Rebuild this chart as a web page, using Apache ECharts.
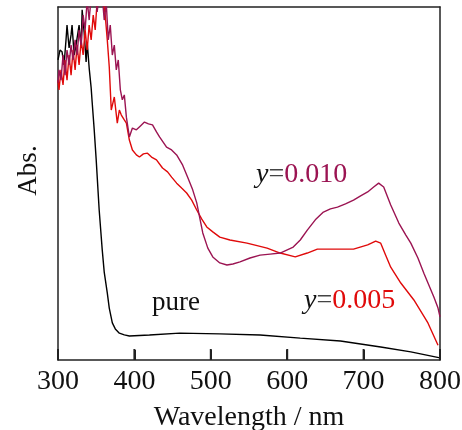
<!DOCTYPE html>
<html><head><meta charset="utf-8">
<script src="https://cdn.jsdelivr.net/npm/echarts@6/dist/echarts.min.js"></script>
<style>html,body{margin:0;padding:0;background:#fff}#c{width:462px;height:430px}</style>
</head><body><div id="c"></div>
<script>
const xTicks = [300, 400, 500, 600, 700, 800];

const pureWl = [300,302.6,305.3,307.9,310.5,311.8,314.5,317.1,318.4,321.1,323.7,325,327.6,330.3,331.6,334.2,336.8,338.2,340.8,343.4,344.7,347.4,350,353.9,357.9,360.5,364.5,367.1,371.1,375,380.3,386.8,393.4,419.7,459.2,511.8,564.5,617.1,669.7,722.4,761.8,800];
const pureAbs = [0.850,0.878,0.873,0.836,0.907,0.949,0.884,0.921,0.949,0.864,0.892,0.912,0.949,0.884,0.992,0.929,0.844,0.901,0.827,0.771,0.731,0.652,0.567,0.425,0.312,0.249,0.190,0.147,0.105,0.088,0.076,0.071,0.068,0.071,0.076,0.074,0.071,0.062,0.054,0.037,0.023,0.006];

const y005Wl = [300,301.3,303.9,306.6,309.2,311.8,314.5,317.1,319.7,322.4,325,327.6,330.3,332.9,335.5,338.2,340.8,343.4,346.1,348.7,351.3,355.3,359.2,361.8,364.5,367.1,369.7,373.7,377.6,380.3,382.9,386.8,389.5,393.4,397.4,402.6,406.6,411.8,417.1,422.4,428.9,436.8,443.4,448.7,455.3,461.8,468.4,475,481.6,488.2,494.7,502.6,511.8,525,547.4,573.7,590.8,610.5,626.3,639.5,660.5,686.8,705.3,715.8,722.4,728.9,735.5,748.7,765.8,784.2,797.4];
const y005Abs = [0.793,0.765,0.822,0.779,0.850,0.793,0.864,0.807,0.878,0.822,0.892,0.836,0.907,0.864,0.935,0.878,0.949,0.907,0.977,0.935,1.02,1.04,1.02,0.977,0.907,0.830,0.708,0.745,0.671,0.708,0.694,0.680,0.671,0.623,0.595,0.581,0.575,0.584,0.586,0.575,0.567,0.544,0.533,0.518,0.501,0.487,0.473,0.453,0.425,0.399,0.377,0.363,0.348,0.340,0.331,0.317,0.303,0.292,0.303,0.314,0.314,0.314,0.326,0.337,0.331,0.297,0.263,0.218,0.170,0.105,0.042];

const y010Wl = [300,301.3,303.9,306.6,309.2,311.8,314.5,317.1,319.7,322.4,325,327.6,330.3,332.9,335.5,338.2,340.8,343.4,347.4,351.3,353.9,357.9,360.5,363.2,365.8,368.4,371.1,373.7,376.3,378.9,381.6,384.2,386.8,389.5,393.4,397.4,402.6,407.9,413.2,418.4,423.7,428.9,432.9,442.1,448.7,455.3,463.2,469.7,476.3,481.6,489.5,496.1,502.6,511.8,521.1,528.9,538.2,551.3,564.5,577.6,590.8,607.9,617.1,626.3,636.8,647.4,656.6,665.8,676.3,686.8,696.1,705.3,713.2,719.7,726.3,735.5,746.1,755.3,761.8,771.1,778.9,785.5,792.1,797.4,800];
const y010Abs = [0.785,0.822,0.793,0.864,0.807,0.878,0.836,0.892,0.850,0.907,0.864,0.935,0.892,0.977,0.935,1.02,0.963,1.03,1.05,0.986,1.04,1.03,0.963,1.01,0.907,0.949,0.864,0.892,0.822,0.850,0.765,0.737,0.751,0.688,0.632,0.657,0.652,0.663,0.674,0.669,0.666,0.646,0.632,0.603,0.595,0.581,0.552,0.518,0.482,0.445,0.360,0.317,0.292,0.275,0.269,0.272,0.278,0.289,0.297,0.300,0.303,0.320,0.340,0.368,0.397,0.419,0.428,0.433,0.442,0.453,0.465,0.476,0.490,0.501,0.490,0.439,0.388,0.354,0.331,0.289,0.246,0.212,0.178,0.147,0.122];

const zip = (a, b) => a.map((v, i) => [v, b[i]]);
const FONT = 'Liberation Serif';
const C010 = '#9b1452', C005 = '#e00a0a';
const AX = '#222';

const chart = echarts.init(document.getElementById('c'));
chart.setOption({
  animation: false,
  grid: {left: 58, right: 22, top: 7, bottom: 70, outerBoundsMode: 'none'},
  xAxis: [{
    type: 'value', min: 300, max: 800, interval: 100,
    axisLine: {show: true, onZero: false, lineStyle: {color: AX, width: 1.5}},
    axisTick: {show: true, inside: true, length: 10, lineStyle: {color: AX, width: 2}},
    axisLabel: {fontFamily: FONT, fontSize: 28, color: '#111', margin: 8},
    splitLine: {show: false},
    name: 'Wavelength / nm', nameLocation: 'middle', nameGap: 44,
    nameTextStyle: {fontFamily: FONT, fontSize: 28, color: '#111'}
  }, {
    type: 'value', min: 300, max: 800, interval: 100, position: 'top',
    axisLine: {show: true, onZero: false, lineStyle: {color: AX, width: 1.5}},
    axisTick: {show: false}, axisLabel: {show: false}, splitLine: {show: false}
  }],
  yAxis: [{
    type: 'value', min: 0, max: 1,
    axisLine: {show: true, onZero: false, lineStyle: {color: AX, width: 1.5}},
    axisTick: {show: false}, axisLabel: {show: false}, splitLine: {show: false},
    name: 'Abs.', nameLocation: 'middle', nameGap: 16,
    nameTextStyle: {fontFamily: FONT, fontSize: 27, color: '#111', padding: [0, 0, 0, 26]}
  }, {
    type: 'value', min: 0, max: 1, position: 'right',
    axisLine: {show: true, onZero: false, lineStyle: {color: AX, width: 1.5}},
    axisTick: {show: false}, axisLabel: {show: false}, splitLine: {show: false}
  }],
  series: [
    {name: 'pure', type: 'line', data: zip(pureWl, pureAbs), showSymbol: false, clip: true,
     lineStyle: {color: '#000', width: 1.4}},
    {name: 'y=0.005', type: 'line', data: zip(y005Wl, y005Abs), showSymbol: false, clip: true,
     lineStyle: {color: C005, width: 1.4}},
    {name: 'y=0.010', type: 'line', data: zip(y010Wl, y010Abs), showSymbol: false, clip: true,
     lineStyle: {color: C010, width: 1.4}},
    {name: 'ticks', type: 'custom', clip: false, silent: true, z: 10,
     data: xTicks.map(v => [v, 0]),
     renderItem: (params, api) => {
       const p = api.coord([api.value(0), 0]);
       return {type: 'rect', shape: {x: p[0] - 1, y: p[1] - 11, width: 2, height: 11},
               style: {fill: AX}};
     }}
  ],
  graphic: [
    {type: 'text', left: 152, top: 289, style: {text: 'pure', fontFamily: FONT, fontSize: 27, fill: '#111'}},
    {type: 'text', left: 256, top: 161, style: {
      text: '{i|y}{e|=}{n|0.010}',
      rich: {
        i: {fontFamily: FONT, fontStyle: 'italic', fontSize: 28, fill: '#111'},
        e: {fontFamily: FONT, fontSize: 28, fill: '#444'},
        n: {fontFamily: FONT, fontSize: 28, fill: C010}
      }}},
    {type: 'text', left: 304, top: 287, style: {
      text: '{i|y}{e|=}{n|0.005}',
      rich: {
        i: {fontFamily: FONT, fontStyle: 'italic', fontSize: 28, fill: '#111'},
        e: {fontFamily: FONT, fontSize: 28, fill: '#444'},
        n: {fontFamily: FONT, fontSize: 28, fill: C005}
      }}}
  ]
});
</script></body></html>
